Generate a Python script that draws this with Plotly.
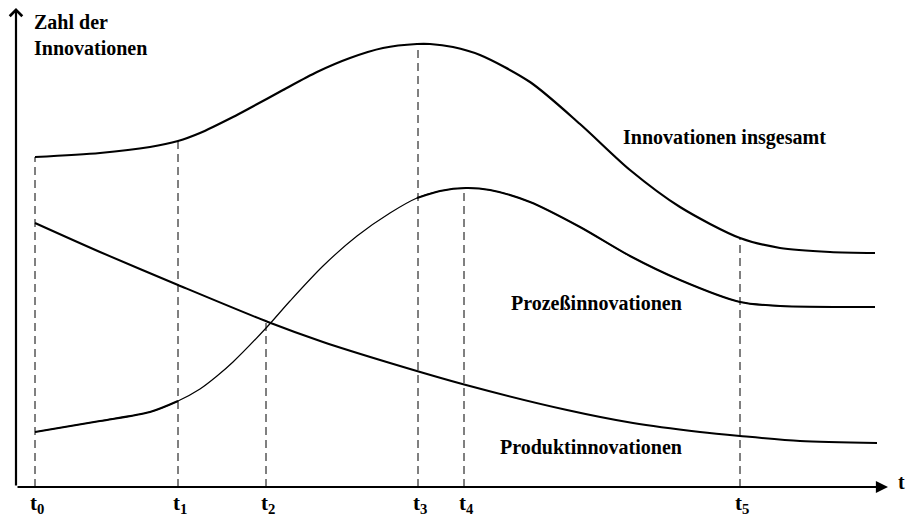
import numpy as np
import plotly.graph_objects as go

# ---- data (x: time axis units, y: number of innovations) ----
x_total = [19, 84, 134, 162, 184, 217, 234, 267, 301, 334, 367, 401, 414, 437, 464, 514, 564, 614, 664, 724, 764, 814, 859]
y_total = [330, 334, 340, 346, 354, 370, 379, 397, 415, 429, 439, 443, 443, 440, 432, 405, 363, 317, 280, 249, 239, 235, 234]

x_process = [19, 84, 134, 162, 184, 201, 217, 251, 274, 307, 341, 374, 401, 424, 450, 474, 514, 564, 614, 664, 724, 764, 859]
y_process = [55, 66, 75, 86, 98, 111, 125, 160, 186, 221, 251, 274, 289, 296, 299, 297, 285, 260, 231, 207, 185, 181, 180]

x_product = [19, 84, 162, 252, 307, 374, 450, 551, 617, 684, 724, 784, 861]
y_product = [264, 235, 202, 165, 145, 124, 102, 77, 64, 55, 51, 46, 44]

t_values = [19, 162, 250, 402, 448, 724]
t_labels = ["t<sub>0</sub>", "t<sub>1</sub>", "t<sub>2</sub>", "t<sub>3</sub>", "t<sub>4</sub>", "t<sub>5</sub>"]
t_curve = ["total", "total", "product", "total", "process", "total"]

y_label = "Zahl der<br>Innovationen"
x_label = "t"
series_names = ["Innovationen insgesamt", "Prozeßinnovationen", "Produktinnovationen"]

curves = {
    "total": (x_total, y_total),
    "process": (x_process, y_process),
    "product": (x_product, y_product),
}

FONT = "Liberation Serif"
BLACK = "#000000"
X_MAX = 874

fig = go.Figure()

def add_line(xs, ys, width):
    fig.add_trace(go.Scatter(x=xs, y=ys, mode="lines",
                             line=dict(color=BLACK, width=width, shape="spline", smoothing=0.8),
                             hoverinfo="skip", showlegend=False))

# dashed vertical guide lines
for tv, key in zip(t_values, t_curve):
    cx, cy = curves[key]
    top = float(np.interp(tv, cx, cy))
    fig.add_trace(go.Scatter(x=[tv, tv], y=[0, top], mode="lines",
                             line=dict(color=BLACK, width=1, dash="8px,5px"),
                             hoverinfo="skip", showlegend=False))

add_line(x_total, y_total, 2.2)
add_line(x_product, y_product, 2.0)
# process curve: thin in its rising part, thicker elsewhere
add_line(x_process, y_process, 1.2)
add_line(x_process[:4], y_process[:4], 2.0)
add_line(x_process[12:], y_process[12:], 2.0)

# axes with arrows
fig.add_annotation(x=872, y=0, ax=0, ay=0, xref="x", yref="y", axref="x", ayref="y",
                   showarrow=True, arrowhead=2, arrowsize=1.1, arrowwidth=2.2,
                   arrowcolor=BLACK, text="")
fig.add_annotation(x=0, y=479, ax=0, ay=0, xref="x", yref="y", axref="x", ayref="y",
                   showarrow=True, arrowhead=4, arrowsize=1.1, arrowwidth=2.2,
                   arrowcolor=BLACK, text="")

def label(text, x, y, xanchor="center", yanchor="middle", size=20, align="center"):
    fig.add_annotation(x=x, y=y, xref="x", yref="y", text="<b>" + text + "</b>",
                       showarrow=False, xanchor=xanchor, yanchor=yanchor, align=align,
                       font=dict(family=FONT, size=size, color=BLACK))

label(y_label, 16, 452, xanchor="left", align="left")
label(series_names[0], 708, 350)
label(series_names[1], 580, 184)
label(series_names[2], 575, 40)

# axis title "t" beyond the arrow tip
fig.add_annotation(x=880 / X_MAX, y=5, xref="paper", yref="y", text="<b>" + x_label + "</b>",
                   showarrow=False, xanchor="left", yanchor="middle",
                   font=dict(family=FONT, size=20, color=BLACK))

# time point labels below the axis
for tv, tl in zip(t_values, t_labels):
    fig.add_annotation(x=tv, y=0, xref="x", yref="paper", text="<b>" + tl + "</b>",
                       showarrow=False, xanchor="center", yanchor="middle",
                       xshift=2, yshift=-17,
                       font=dict(family=FONT, size=21, color=BLACK))

fig.update_layout(
    width=906, height=518,
    margin=dict(l=16, r=16, t=0, b=31),
    paper_bgcolor="white", plot_bgcolor="white",
    xaxis=dict(range=[0, X_MAX], visible=False),
    yaxis=dict(range=[0, 487], visible=False),
    showlegend=False,
)

fig.write_html("out.html", config={"displayModeBar": False},
               post_script="document.body.style.margin='0';")
